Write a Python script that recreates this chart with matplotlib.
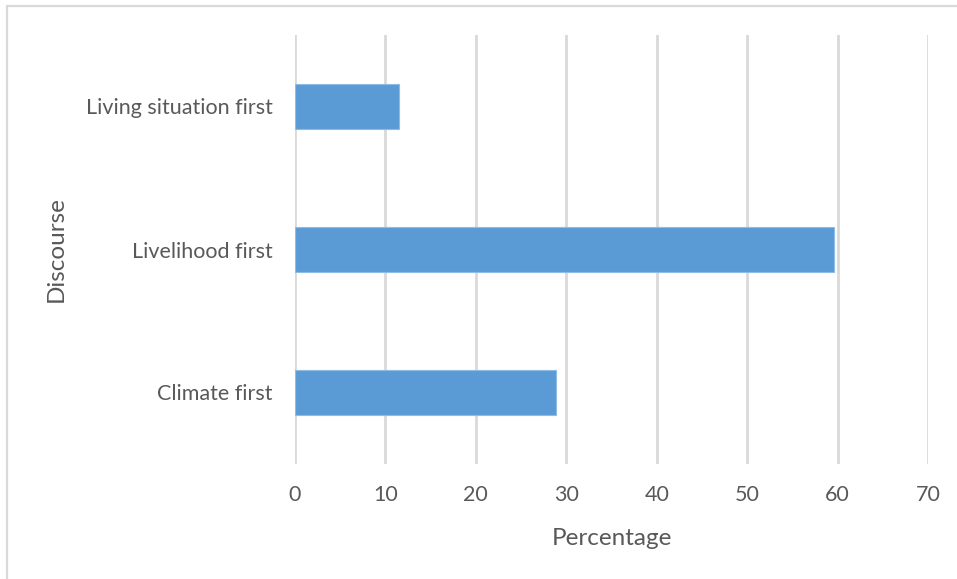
import matplotlib.pyplot as plt
from matplotlib.patches import Rectangle

categories = ["Climate first", "Livelihood first", "Living situation first"]
percentages = [28.9, 59.6, 11.5]
ticks = [0, 10, 20, 30, 40, 50, 60, 70]

plt.rcParams["font.family"] = ["Lato", "DejaVu Sans"]
text_color = "#595959"
grid_color = "#d9d9d9"

W, H = 957, 579
fig = plt.figure(figsize=(W / 100, H / 100), dpi=100)

# chart border (only left and top visible, the rest runs off the image)
fig.patches.append(Rectangle((7 / W, -0.1), 1.2, (H - 6) / H + 0.1,
                             transform=fig.transFigure, fill=False,
                             edgecolor=grid_color, linewidth=1.6))

ax = fig.add_axes([295 / W, (H - 464) / H, (928 - 295) / W, (464 - 35) / H])
ax.barh(range(len(categories)), percentages, height=0.31,
        color="#5b9bd5", edgecolor="#8fbce6", linewidth=0.8, zorder=3)

ax.set_xlim(0, 70)
ax.set_ylim(-0.5, 2.5)
ax.set_xticks(ticks)
ax.set_yticks(range(len(categories)))
ax.set_yticklabels(categories)
ax.xaxis.grid(True, color=grid_color, linewidth=2)
for s in ax.spines.values():
    s.set_visible(False)
ax.tick_params(axis="both", length=0, colors=text_color, labelsize=15.5)
ax.tick_params(axis="x", pad=15)
ax.tick_params(axis="y", pad=16)

ax.set_xlabel("Percentage", fontsize=17.5, color=text_color, labelpad=17)
ax.set_ylabel("Discourse", fontsize=17.5, color=text_color, labelpad=14)

fig.savefig("out.png", dpi=100)
